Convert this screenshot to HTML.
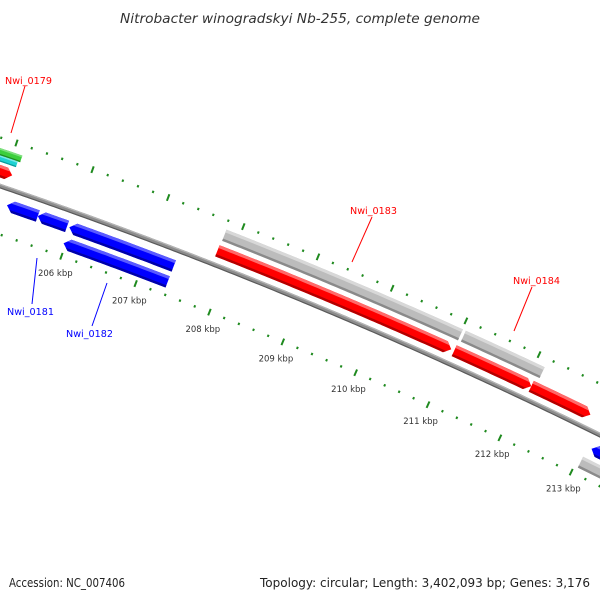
<!DOCTYPE html>
<html><head><meta charset="utf-8"><style>
html,body{margin:0;padding:0;background:#fff;}
svg{display:block;font-family:"DejaVu Sans","Liberation Sans",sans-serif;}
</style></head><body>
<svg id="map" width="600" height="600" viewBox="0 0 600 600" xmlns="http://www.w3.org/2000/svg">
<rect width="600" height="600" fill="#fff"/>
<text x="300" y="23" text-anchor="middle" font-size="13" font-style="italic" fill="#333" textLength="360" lengthAdjust="spacingAndGlyphs">Nitrobacter winogradskyi Nb-255, complete genome</text>
<g id="ticks"></g>
<g id="backbone"></g>
<g id="genes"></g>
<g id="labels"></g>
<text x="9" y="587" font-size="12" fill="#222" textLength="116" lengthAdjust="spacingAndGlyphs">Accession: NC_007406</text>
<text x="590" y="587" text-anchor="end" font-size="12" fill="#222" textLength="330" lengthAdjust="spacingAndGlyphs">Topology: circular; Length: 3,402,093 bp; Genes: 3,176</text>
</svg>
<script>
// gene data (kbp)
const geneStart = [204.6, 204.6, 204.6, 205.14, 205.55, 205.97, 205.97, 207.81, 207.82, 211.02, 211.05, 212.08, 213.1, 213.05];
const geneEnd   = [205.08, 205.12, 205.09, 205.55, 205.94, 207.37, 207.37, 210.98, 211.01, 212.08, 212.13, 212.9, 214.5, 214.5];
const geneTrack = ['fwd', 'gfull', 'cyan', 'rev', 'rev', 'rev', 'rev2', 'fwd', 'gray', 'fwd', 'gray', 'fwd', 'rev', 'rev2'];
const geneColor = ['red', 'green', 'cyan', 'blue', 'blue', 'blue', 'blue', 'red', 'gray', 'red', 'gray', 'red', 'blue', 'gray'];
const geneDir   = [1, 0, 0, -1, -1, -1, -1, 1, 0, 1, 0, 1, -1, 0];
// tick labels (kbp)
const tickLabels = [206, 207, 208, 209, 210, 211, 212, 213];
// labels
const labelNames = ['Nwi_0179', 'Nwi_0181', 'Nwi_0182', 'Nwi_0183', 'Nwi_0184'];
const labelColor = ['#f00', '#00f', '#00f', '#f00', '#f00'];

const NS = 'http://www.w3.org/2000/svg';
const C = {x: -1632, y: 4965};
const R0 = 5050;
function ang(k){ return (-70.22 + (k - 206) * 0.906) * Math.PI / 180; }
function pt(r, k){ const a = ang(k); return [C.x + r*Math.cos(a), C.y + r*Math.sin(a)]; }
function mk(tag, attrs, parent){ const e = document.createElementNS(NS, tag); for (const k in attrs) e.setAttribute(k, attrs[k]); parent.appendChild(e); return e; }
function arcPts(r, k1, k2){ const out = []; const n = Math.max(2, Math.ceil(Math.abs(k2-k1)/0.05)); for (let i=0;i<=n;i++){ out.push(pt(r, k1 + (k2-k1)*i/n)); } return out; }
function polyStr(p){ return p.map(q => q[0].toFixed(2)+','+q[1].toFixed(2)).join(' '); }

// backbone
const bb = document.getElementById('backbone');
[[R0, 4.5, '#8c8c8c'], [R0+1.6, 1.3, '#b4b4b4'], [R0-1.8, 1.2, '#5a5a5a']].forEach((s, i) => {
  const l = mk('polyline', {points: polyStr(arcPts(s[0], 203.5, 215)), fill: 'none', stroke: s[2], 'stroke-width': s[1]}, bb);
  
  
});

// ticks
const tg = document.getElementById('ticks');
const rings = [5004, 5096];
for (let j = 0; j < rings.length; j++){
  for (let t = 2020; t <= 2150; t += 2){
    const k = t / 10;
    const major = (t % 10 === 0);
    const len = major ? 3.5 : 1.2;
    const p1 = pt(rings[j]-len, k), p2 = pt(rings[j]+len, k);
    const ln = mk('line', {x1: p1[0], y1: p1[1], x2: p2[0], y2: p2[1], stroke: '#1f8a1f', 'stroke-width': major ? 2 : 2}, tg);
    
    
  }
}
tickLabels.forEach(k => {
  const p = pt(4986, k);
  const tx = mk('text', {x: p[0].toFixed(1), y: (p[1]+3).toFixed(1), 'text-anchor': 'middle', 'font-size': 8.5, fill: '#333'}, tg);
  tx.textContent = k + ' kbp';
  
  
});

// genes
const trackR = {fwd: [5058, 5070], gray: [5075, 5087], gfull: [5079, 5086], cyan: [5073, 5079], rev: [5028, 5040], rev2: [5011, 5023]};
const colors = {
  red: ['#ff0000', '#ff6a6a', '#b40000'],
  gray: ['#bcbcbc', '#d8d8d8', '#8a8a8a'],
  blue: ['#0000ff', '#5a5aff', '#0000a8'],
  green: ['#3ccf3c', '#7ee07e', '#1f8f1f'],
  cyan: ['#1ed2d2', '#7ae8e8', '#0a9a9a']
};
const gg = document.getElementById('genes');
const defs = mk('defs', {}, document.getElementById('map'));
for (let i = 0; i < geneStart.length; i++){
  const [ri, ro] = trackR[geneTrack[i]];
  const rm = (ri + ro) / 2;
  const k1 = geneStart[i], k2 = geneEnd[i], h = 0.08;
  let pts;
  if (geneDir[i] === 1){
    pts = arcPts(ro, k1, k2-h).concat([pt(rm, k2)], arcPts(ri, k2-h, k1));
  } else if (geneDir[i] === -1){
    pts = [pt(rm, k1)].concat(arcPts(ro, k1+h, k2), arcPts(ri, k2, k1+h));
  } else {
    pts = arcPts(ro, k1, k2).concat(arcPts(ri, k2, k1));
  }
  const cp = mk('clipPath', {id: 'cp' + i}, defs);
  mk('polygon', {points: polyStr(pts)}, cp);
  const g = mk('g', {'clip-path': 'url(#cp' + i + ')'}, gg);
  
  
  const col = colors[geneColor[i]];
  const a = k1 - 0.1, b = k2 + 0.1;
  const w = ro - ri;
  mk('polygon', {points: polyStr(arcPts(ro+1, a, b).concat(arcPts(ri-1, b, a))), fill: col[0]}, g);
  mk('polygon', {points: polyStr(arcPts(ro+1, a, b).concat(arcPts(ro - w*0.25, b, a))), fill: col[1]}, g);
  mk('polygon', {points: polyStr(arcPts(ri + w*0.2, a, b).concat(arcPts(ri-1, b, a))), fill: col[2]}, g);
}

// labels
const lg = document.getElementById('labels');
const labelPos = [[5, 84, 25, 86, 11, 133], [7, 315, 32, 304, 37, 258], [66, 337, 92, 326, 107, 283], [350, 214, 372, 217, 352, 262], [513, 284, 532, 287, 514, 331]];
for (let i = 0; i < labelNames.length; i++){
  const lp = labelPos[i];
  const t = mk('text', {x: lp[0], y: lp[1], 'font-size': 10, fill: labelColor[i], textLength: 47, lengthAdjust: 'spacingAndGlyphs'}, lg);
  t.textContent = labelNames[i];
  
  
  const l = mk('line', {x1: lp[2], y1: lp[3], x2: lp[4], y2: lp[5], stroke: labelColor[i], 'stroke-width': 1}, lg);
  
  
}
</script>
</body></html>
